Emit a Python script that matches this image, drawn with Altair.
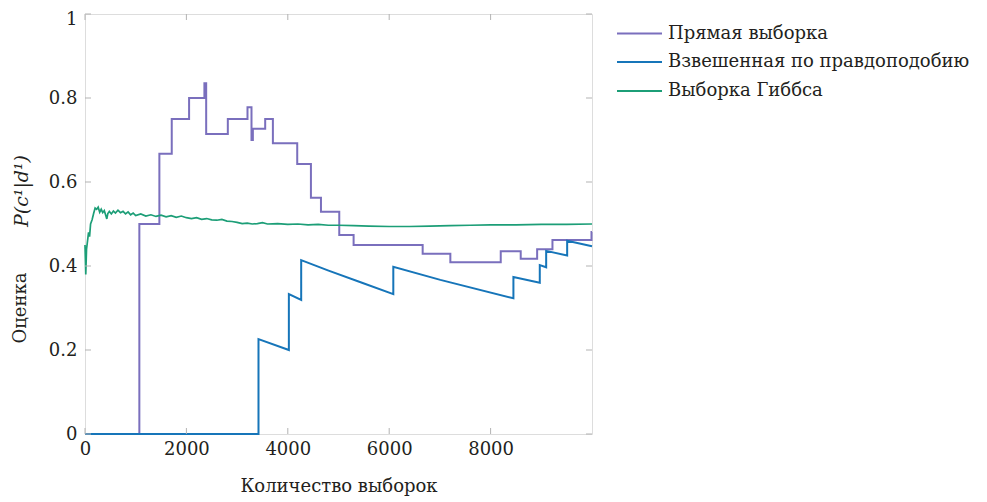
import altair as alt
import pandas as pd

# ---------------- data ----------------
series_names = ["Прямая выборка", "Взвешенная по правдоподобию", "Выборка Гиббса"]
series_colors = ["#7a6fbd", "#1675b9", "#1c9e77"]

# direct sampling (step-after change points)
direct_x = [0, 1072, 1467, 1711, 2053, 2355, 2390, 2817, 3205, 3284, 3311, 3554, 3706,
            4186, 4456, 4654, 5015, 5298, 6660, 7206, 8200, 8594, 8918, 9220, 9990, 10000]
direct_y = [0, 0.5, 0.667, 0.75, 0.8, 0.835, 0.714, 0.75, 0.778, 0.70, 0.727, 0.75, 0.692,
            0.643, 0.5625, 0.529, 0.474, 0.45, 0.429, 0.409, 0.435, 0.417, 0.44, 0.462, 0.481, 0.481]

# likelihood weighting
lw_x = [0, 3422, 3422, 4021, 4021, 4264, 4264, 4804, 5463, 6081, 6081, 7009, 8450, 8450,
        8970, 8970, 9096, 9096, 9510, 9510, 10000]
lw_y = [0, 0, 0.226, 0.200, 0.333, 0.319, 0.414, 0.389, 0.360, 0.333, 0.398, 0.367, 0.323, 0.374,
        0.360, 0.402, 0.397, 0.436, 0.425, 0.460, 0.447]

# Gibbs sampling
gibbs_x = [0, 15, 30, 50, 70, 90, 110, 140, 170, 200, 230, 260, 290, 320, 350, 380, 410, 430,
           450, 480, 520, 560, 600, 650, 700, 750, 800, 850, 900, 950, 1000, 1100, 1200, 1300,
           1400, 1500, 1600, 1700, 1800, 1900, 2000, 2100, 2200, 2300, 2400, 2500, 2600, 2700,
           2800, 2900, 3000, 3100, 3200, 3300, 3400, 3500, 3600, 3800, 4000, 4200, 4400, 4600,
           4800, 5000, 5300, 5600, 6000, 6400, 6800, 7200, 7600, 8000, 8500, 9000, 9500, 10000]
gibbs_y = [0.45, 0.38, 0.44, 0.46, 0.48, 0.47, 0.50, 0.51, 0.525, 0.538, 0.535, 0.54, 0.528,
           0.535, 0.527, 0.532, 0.52, 0.512, 0.525, 0.53, 0.524, 0.531, 0.526, 0.533, 0.527,
           0.53, 0.524, 0.529, 0.522, 0.526, 0.52, 0.524, 0.519, 0.522, 0.518, 0.521, 0.517,
           0.52, 0.516, 0.519, 0.515, 0.513, 0.515, 0.511, 0.513, 0.51, 0.509, 0.511, 0.507,
           0.506, 0.504, 0.501, 0.502, 0.50, 0.501, 0.503, 0.50, 0.501, 0.499, 0.50, 0.498,
           0.499, 0.497, 0.497, 0.496, 0.495, 0.494, 0.494, 0.495, 0.496, 0.497, 0.498, 0.498,
           0.499, 0.499, 0.50]

x_ticks = [0, 2000, 4000, 6000, 8000]
y_ticks = [0, 0.2, 0.4, 0.6, 0.8, 1.0]
x_title = "Количество выборок"
y_title_parts = ["Оценка", "P(c¹|d¹)"]

# ---------------- chart ----------------
W, H = 507, 420
FONT = "DejaVu Serif"
FS = 18
TXT = "#231f20"

xs = alt.Scale(domain=[0, 10000], nice=False, zero=False)
ys = alt.Scale(domain=[0, 1], nice=False)

df_d = pd.DataFrame({"x": direct_x, "y": direct_y})
df_l = pd.DataFrame({"x": lw_x, "y": lw_y})
df_g = pd.DataFrame({"x": gibbs_x, "y": gibbs_y})

xaxis = alt.Axis(values=x_ticks, format="d", ticks=False, domain=False, grid=False,
                 labelFont=FONT, labelFontSize=FS, labelColor=TXT, labelPadding=6,
                 labelFlush=False,
                 title=x_title, titleFont=FONT, titleFontSize=FS, titleColor=TXT,
                 titleFontWeight="normal", titleX=W / 2, titleY=52,
                 titleBaseline="middle", titleAlign="center")
yaxis = alt.Axis(values=y_ticks, format="~g", ticks=False, domain=False, grid=False,
                 labelFont=FONT, labelFontSize=FS, labelColor=TXT, labelPadding=8,
                 labelFlush=False, title=None,
                 labelOffset={"condition": {"test": "datum.value >= 1", "value": 5}, "value": 0})

line_d = alt.Chart(df_d).mark_line(color=series_colors[0], strokeWidth=2,
                                   interpolate="step-after").encode(
    x=alt.X("x:Q", scale=xs, axis=xaxis), y=alt.Y("y:Q", scale=ys, axis=yaxis))
line_l = alt.Chart(df_l).mark_line(color=series_colors[1], strokeWidth=2).encode(
    x=alt.X("x:Q", scale=xs), y=alt.Y("y:Q", scale=ys))
line_g = alt.Chart(df_g).mark_line(color=series_colors[2], strokeWidth=1.7).encode(
    x=alt.X("x:Q", scale=xs), y=alt.Y("y:Q", scale=ys))

# inward ticks on all four sides
tick_color = "#b3b3b3"
dfx = pd.DataFrame({"v": x_ticks})
dfy = pd.DataFrame({"v": y_ticks})
tb = alt.Chart(dfx).mark_rule(color=tick_color, strokeWidth=1).encode(
    x=alt.X("v:Q", scale=xs), y=alt.value(H), y2=alt.value(H - 6))
tt = alt.Chart(dfx).mark_rule(color=tick_color, strokeWidth=1).encode(
    x=alt.X("v:Q", scale=xs), y=alt.value(0), y2=alt.value(6))
tl = alt.Chart(dfy).mark_rule(color=tick_color, strokeWidth=1).encode(
    y=alt.Y("v:Q", scale=ys), x=alt.value(0), x2=alt.value(6))
tr = alt.Chart(dfy).mark_rule(color=tick_color, strokeWidth=1).encode(
    y=alt.Y("v:Q", scale=ys), x=alt.value(W), x2=alt.value(W - 6))

# y title as two text pieces (upright + italic)
yt1 = alt.Chart(pd.DataFrame({"t": [y_title_parts[0]]})).mark_text(
    font=FONT, fontSize=FS, color=TXT, angle=270, align="center", baseline="middle").encode(
    text="t:N", x=alt.value(-64), y=alt.value(294))
yt2 = alt.Chart(pd.DataFrame({"t": [y_title_parts[1]]})).mark_text(
    font=FONT, fontSize=FS + 1, color=TXT, angle=270, align="center", baseline="middle",
    fontStyle="italic").encode(
    text="t:N", x=alt.value(-63), y=alt.value(177))

# manual legend
legend_layers = []
row_y = [19.5, 48, 77]
for name, col, yy in zip(series_names, series_colors, row_y):
    dfn = pd.DataFrame({"t": [name]})
    legend_layers.append(alt.Chart(dfn).mark_rule(color=col, strokeWidth=2).encode(
        x=alt.value(532), x2=alt.value(577), y=alt.value(yy)))
    legend_layers.append(alt.Chart(dfn).mark_text(
        font=FONT, fontSize=FS, color=TXT, align="left", baseline="middle").encode(
        text="t:N", x=alt.value(583), y=alt.value(yy)))

chart = alt.layer(line_d, line_l, line_g, tb, tt, tl, tr, yt1, yt2, *legend_layers).properties(
    width=W, height=H,
    autosize=alt.AutoSizeParams(type="none"),
    padding={"left": 77, "top": 6, "right": 387, "bottom": 64},
).configure_view(stroke="#231f20", strokeWidth=1.2).configure(background="white")

chart.save("out.html", embed_options={"renderer": "svg", "actions": False})
